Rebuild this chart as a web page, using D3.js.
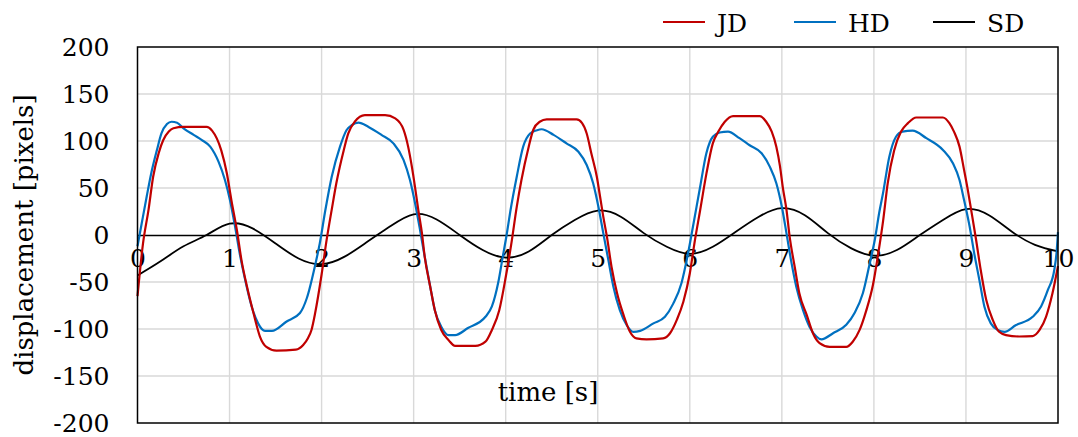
<!DOCTYPE html>
<html>
<head>
<meta charset="utf-8">
<script src="https://cdn.jsdelivr.net/npm/d3@7"></script>
<style>
  body { margin: 0; background: #fff; }
  svg text { font-family: 'DejaVu Serif', serif; fill: #000; }
  .grid line { stroke: #d9d9d9; stroke-width: 1.4; }
  .line { fill: none; stroke-linejoin: round; }
</style>
</head>
<body>
<div id="chart"></div>
<script>
/* global d3 */

// [time (s), displacement (pixels)]
const jdSeries = [
  [0.00, -65], [0.06, -9], [0.12, 27], [0.17, 62], [0.23, 87], [0.28, 101], [0.34, 110], [0.39, 113.5],
  [0.50, 115], [0.75, 115], [0.81, 111], [0.91, 90], [0.97, 66], [1.02, 37], [1.08, 5], [1.13, -27],
  [1.19, -55], [1.26, -83], [1.33, -108], [1.40, -119], [1.51, -123], [1.72, -122], [1.80, -117],
  [1.85, -110], [1.89, -101], [1.93, -83], [2.00, -42], [2.055, -5], [2.11, 27], [2.16, 55], [2.24, 90],
  [2.29, 108], [2.36, 120.5], [2.47, 127.5], [2.69, 127.5], [2.80, 124], [2.89, 112], [2.94, 94],
  [2.98, 73], [3.015, 51], [3.05, 27], [3.09, 2], [3.12, -23], [3.18, -55], [3.23, -80], [3.30, -101],
  [3.38, -112], [3.45, -118], [3.67, -118], [3.78, -113.5], [3.85, -101], [3.93, -80], [4.00, -45],
  [4.06, -10], [4.12, 30], [4.17, 58], [4.25, 94], [4.30, 112], [4.37, 120.5], [4.445, 123], [4.77, 123],
  [4.83, 119], [4.88, 108], [4.93, 87], [4.99, 62], [5.025, 41], [5.06, 19.5], [5.10, -2], [5.15, -34],
  [5.21, -62], [5.28, -85], [5.35, -103], [5.42, -110], [5.53, -111], [5.71, -110], [5.785, -104.5],
  [5.86, -90], [5.93, -71], [6.00, -41], [6.055, -6], [6.11, 25], [6.18, 65], [6.25, 97.5], [6.31, 110],
  [6.38, 120.5], [6.47, 126.5], [6.76, 126.5], [6.83, 120.5], [6.89, 110], [6.94, 94], [6.98, 73],
  [7.01, 51], [7.05, 27], [7.085, -2], [7.14, -34], [7.19, -62], [7.27, -85], [7.34, -105], [7.41, -115],
  [7.52, -119], [7.70, -119], [7.77, -113.5], [7.845, -101], [7.915, -81], [7.99, -53], [8.05, -18],
  [8.10, 15], [8.15, 55], [8.22, 90], [8.295, 110], [8.37, 119], [8.46, 125], [8.75, 125], [8.82, 119],
  [8.87, 110], [8.93, 94], [8.98, 69], [9.02, 48], [9.056, 27], [9.11, -5], [9.16, -37], [9.22, -69],
  [9.29, -90], [9.36, -103], [9.435, -106.5], [9.58, -108], [9.725, -107.5], [9.80, -101], [9.87, -87],
  [9.94, -62], [10.00, -33]
]

const hdSeries = [
  [0.00, -12], [0.045, 12], [0.10, 41], [0.15, 66], [0.21, 90], [0.26, 108], [0.32, 118], [0.37, 120.5],
  [0.43, 119.5], [0.50, 113.5], [0.61, 106.5], [0.70, 101], [0.79, 94], [0.88, 78], [0.95, 58.5],
  [1.005, 37], [1.06, 9], [1.11, -19.5], [1.17, -48], [1.24, -76], [1.31, -94], [1.385, -102],
  [1.46, -102], [1.62, -92], [1.765, -83], [1.84, -67], [1.93, -32], [1.98, -9], [2.04, 26], [2.11, 62],
  [2.20, 94], [2.27, 111.5], [2.33, 117], [2.40, 119.5], [2.51, 115], [2.65, 106.5], [2.78, 97.5],
  [2.89, 80], [2.96, 58.5], [3.015, 34], [3.07, 5], [3.12, -23], [3.18, -55], [3.23, -80], [3.30, -97.5],
  [3.38, -106.5], [3.45, -106.5], [3.59, -99], [3.78, -87], [3.85, -76], [3.92, -50], [3.97, -22],
  [4.01, 0], [4.05, 25], [4.12, 62], [4.19, 94], [4.265, 108], [4.34, 111.5], [4.39, 112.5],
  [4.52, 106.5], [4.66, 97.5], [4.79, 88.5], [4.88, 74.5], [4.95, 55], [5.007, 30], [5.06, 2],
  [5.116, -27], [5.17, -55], [5.24, -80], [5.315, -96], [5.387, -103], [5.46, -102], [5.605, -94],
  [5.73, -87], [5.82, -73], [5.91, -51], [5.98, -20], [6.04, 12], [6.11, 50], [6.18, 87], [6.25, 104.5],
  [6.325, 109], [6.415, 110], [6.54, 103], [6.65, 95.5], [6.78, 87], [6.87, 72.5], [6.94, 55], [7.00, 30],
  [7.05, 2], [7.10, -27], [7.157, -55], [7.23, -80], [7.30, -97.5], [7.375, -108], [7.43, -111],
  [7.556, -104.5], [7.70, -95.5], [7.79, -83], [7.88, -62], [7.955, -30], [8.01, -5], [8.06, 25],
  [8.10, 45], [8.167, 83], [8.24, 104.5], [8.31, 110], [8.42, 111], [8.57, 103], [8.75, 90.5], [8.86, 76],
  [8.93, 58.5], [8.98, 37], [9.04, 9], [9.09, -19.5], [9.146, -48], [9.20, -76], [9.27, -94],
  [9.345, -101], [9.42, -103], [9.54, -96], [9.725, -87], [9.816, -76], [9.89, -58.5], [9.96, -37],
  [9.985, -18], [10.00, 3]
]

const sdSeries = [
  [0.00, -43], [0.25, -28], [0.50, -12], [0.75, 0], [1.00, 12], [1.25, 7], [1.50, -9], [1.75, -25],
  [2.00, -31], [2.25, -23], [2.50, -7], [2.75, 9.5], [3.00, 22], [3.25, 16.5], [3.50, 0], [3.75, -16],
  [4.00, -24], [4.25, -17.5], [4.50, 0], [4.75, 16], [5.00, 26], [5.25, 19.5], [5.50, 2], [5.75, -12.5],
  [6.00, -20], [6.25, -12.5], [6.50, 3.5], [6.75, 19.5], [7.00, 28.5], [7.25, 21], [7.50, 2], [7.75, -14],
  [8.00, -22], [8.25, -16], [8.50, 0], [8.75, 16], [9.00, 27.5], [9.25, 21], [9.50, 3.5], [9.75, -10.5],
  [10.00, -17.5]
]

const xTicks = [0, 1, 2, 3, 4, 5, 6, 7, 8, 9, 10]
const yTicks = [-200, -150, -100, -50, 0, 50, 100, 150, 200]
const seriesNames = ['JD', 'HD', 'SD']
const seriesColors = ['#c00000', '#0070c0', '#000000']

const width = 1078
const height = 437
const margin = { top: 47, right: 20, bottom: 14, left: 137.5 }
const innerW = width - margin.left - margin.right
const innerH = height - margin.top - margin.bottom

const xScale = d3.scaleLinear().domain([0, 10]).range([0, innerW])
const yScale = d3.scaleLinear().domain([-200, 200]).range([innerH, 0])

const svg = d3.select('#chart').append('svg')
  .attr('width', width)
  .attr('height', height)

const g = svg.append('g')
  .attr('transform', 'translate(' + margin.left + ',' + margin.top + ')')

// gridlines
const grid = g.append('g').attr('class', 'grid')
grid.selectAll('.vgrid')
  .data(xTicks.slice(1, -1))
  .enter().append('line')
  .attr('x1', d => xScale(d)).attr('x2', d => xScale(d))
  .attr('y1', 0).attr('y2', innerH)
grid.selectAll('.hgrid')
  .data(yTicks.filter(d => d !== 0 && Math.abs(d) !== 200))
  .enter().append('line')
  .attr('x1', 0).attr('x2', innerW)
  .attr('y1', d => yScale(d)).attr('y2', d => yScale(d))

// y axis labels on the left (plain hyphen minus, like the reference)
const yAxis = g.append('g')
  .attr('class', 'y axis')
  .call(d3.axisLeft(yScale).tickValues(yTicks).tickSize(0).tickPadding(28).tickFormat(d => String(d)))
yAxis.select('.domain').remove()
yAxis.selectAll('text')
  .style('font-size', '25px')
  .style('font-family', "'DejaVu Serif', serif")

// x axis sits at zero, labels hang below it
const xAxis = g.append('g')
  .attr('class', 'x axis')
  .attr('transform', 'translate(0,' + yScale(0) + ')')
  .call(d3.axisBottom(xScale).tickValues(xTicks).tickSize(0).tickPadding(32))
xAxis.select('.domain')
  .attr('stroke', '#000')
  .attr('stroke-width', 1.3)
xAxis.selectAll('text')
  .style('font-size', '25px')
  .style('font-family', "'DejaVu Serif', serif")
  .attr('dy', '0')

// series lines
const line = d3.line()
  .x(d => xScale(d[0]))
  .y(d => yScale(d[1]))

const allSeries = [jdSeries, hdSeries, sdSeries]
const curves = [d3.curveMonotoneX, d3.curveMonotoneX, d3.curveNatural]
const widths = [2.2, 2.2, 1.8]

// draw SD first, then HD, JD on top like the reference
;[2, 1, 0].forEach((i) => {
  g.append('path')
    .datum(allSeries[i])
    .attr('class', 'line')
    .attr('stroke', seriesColors[i])
    .attr('stroke-width', widths[i])
    .attr('d', line.curve(curves[i]))
})

// plot border
g.append('rect')
  .attr('width', innerW)
  .attr('height', innerH)
  .attr('fill', 'none')
  .attr('stroke', '#000')
  .attr('stroke-width', 1.5)

// axis titles
svg.append('text')
  .attr('x', 548)
  .attr('y', 401)
  .attr('text-anchor', 'middle')
  .style('font-size', '26px')
  .text('time [s]')

svg.append('text')
  .attr('transform', 'translate(33,235) rotate(-90)')
  .attr('text-anchor', 'middle')
  .style('font-size', '26px')
  .text('displacement [pixels]')

// legend
const legendX = [663, 794, 933]
const legend = svg.append('g').attr('class', 'legend')
seriesNames.forEach((name, i) => {
  legend.append('line')
    .attr('x1', legendX[i]).attr('x2', legendX[i] + 42)
    .attr('y1', 22).attr('y2', 22)
    .attr('stroke', seriesColors[i])
    .attr('stroke-width', 2.2)
  legend.append('text')
    .attr('x', legendX[i] + 54)
    .attr('y', 32)
    .style('font-size', '25px')
    .text(name)
})
</script>
</body>
</html>
